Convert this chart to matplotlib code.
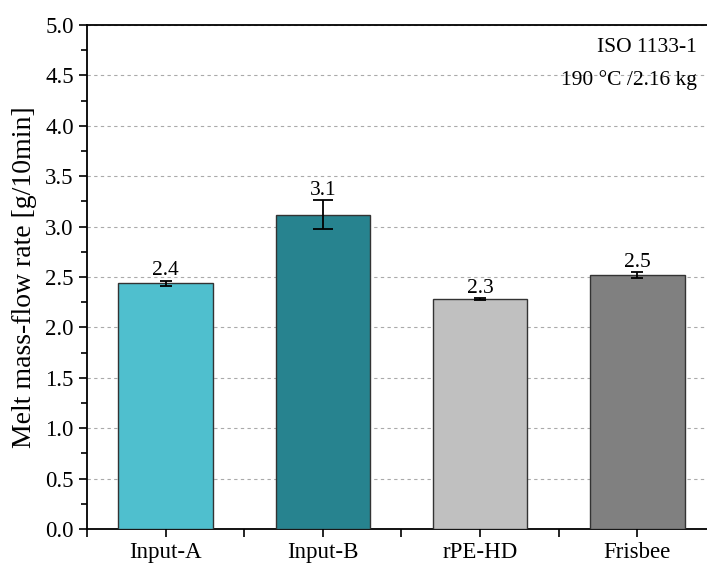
import numpy as np
import matplotlib
matplotlib.use("Agg")
import matplotlib.pyplot as plt
from matplotlib.ticker import MultipleLocator, FormatStrFormatter

# ------------------ Data -----------------

categories = ["Input-A", "Input-B", "rPE-HD", "Frisbee"]
mfr_values = [2.44, 3.12, 2.28, 2.52]
mfr_errors = [0.025, 0.14, 0.01, 0.025]
value_labels = ["2.4", "3.1", "2.3", "2.5"]
bar_colors = ["#4fbfce", "#27838f", "#c0c0c0", "#808080"]
cap_sizes = [4.5, 7, 4.5, 4.5]

# ------------------ Plot -----------------

plt.rcParams["font.family"] = ["Liberation Serif", "DejaVu Serif"]
plt.rcParams["font.size"] = 15

fig = plt.figure(figsize=(7.07, 5.64), dpi=100)
ax = fig.add_axes([87 / 707, 1 - 529 / 564, 629 / 707, 504 / 564])

x = np.arange(len(categories))
ax.bar(x, mfr_values, width=0.6, color=bar_colors, edgecolor="#333333",
       linewidth=1.0, zorder=3)
for xi, v, e, cs in zip(x, mfr_values, mfr_errors, cap_sizes):
    ax.errorbar(xi, v, yerr=e, fmt="none", ecolor="black",
                elinewidth=1.3, capsize=cs, capthick=1.3, zorder=4)

for xi, v, e, lab in zip(x, mfr_values, mfr_errors, value_labels):
    ax.text(xi, v + e + 0.005, lab, ha="center", va="bottom", fontsize=15.5)

ax.set_xlim(-0.5, 3.5)
ax.set_ylim(0, 5.0)
ax.set_xticks(x)
ax.set_xticklabels(categories, fontsize=16.5)
ax.xaxis.set_minor_locator(MultipleLocator(1.0, offset=0.5))
ax.yaxis.set_major_locator(MultipleLocator(0.5))
ax.yaxis.set_minor_locator(MultipleLocator(0.25))
ax.yaxis.set_major_formatter(FormatStrFormatter("%.1f"))

ax.tick_params(which="major", direction="out", length=6, width=1.2)
ax.tick_params(which="minor", direction="out", length=4, width=1.2)
ax.tick_params(axis="x", which="minor", length=6)
ax.tick_params(axis="y", labelsize=16.5)

for side in ["left", "bottom", "top"]:
    ax.spines[side].set_linewidth(1.3)
ax.spines["right"].set_visible(False)

ax.yaxis.grid(True, linestyle=(0, (3, 3)), color="#aaaaaa", linewidth=0.8, zorder=0)
ax.set_axisbelow(True)

ax.set_ylabel("Melt mass-flow rate [g/10min]", fontsize=20, labelpad=6)

fig.text(697 / 707, 1 - 47 / 564, "ISO 1133-1", ha="right", va="center", fontsize=15.5)
fig.text(697 / 707, 1 - 80 / 564, "190 °C /2.16 kg", ha="right", va="center", fontsize=15.5)

fig.savefig("out.png", dpi=100)
plt.close(fig)
